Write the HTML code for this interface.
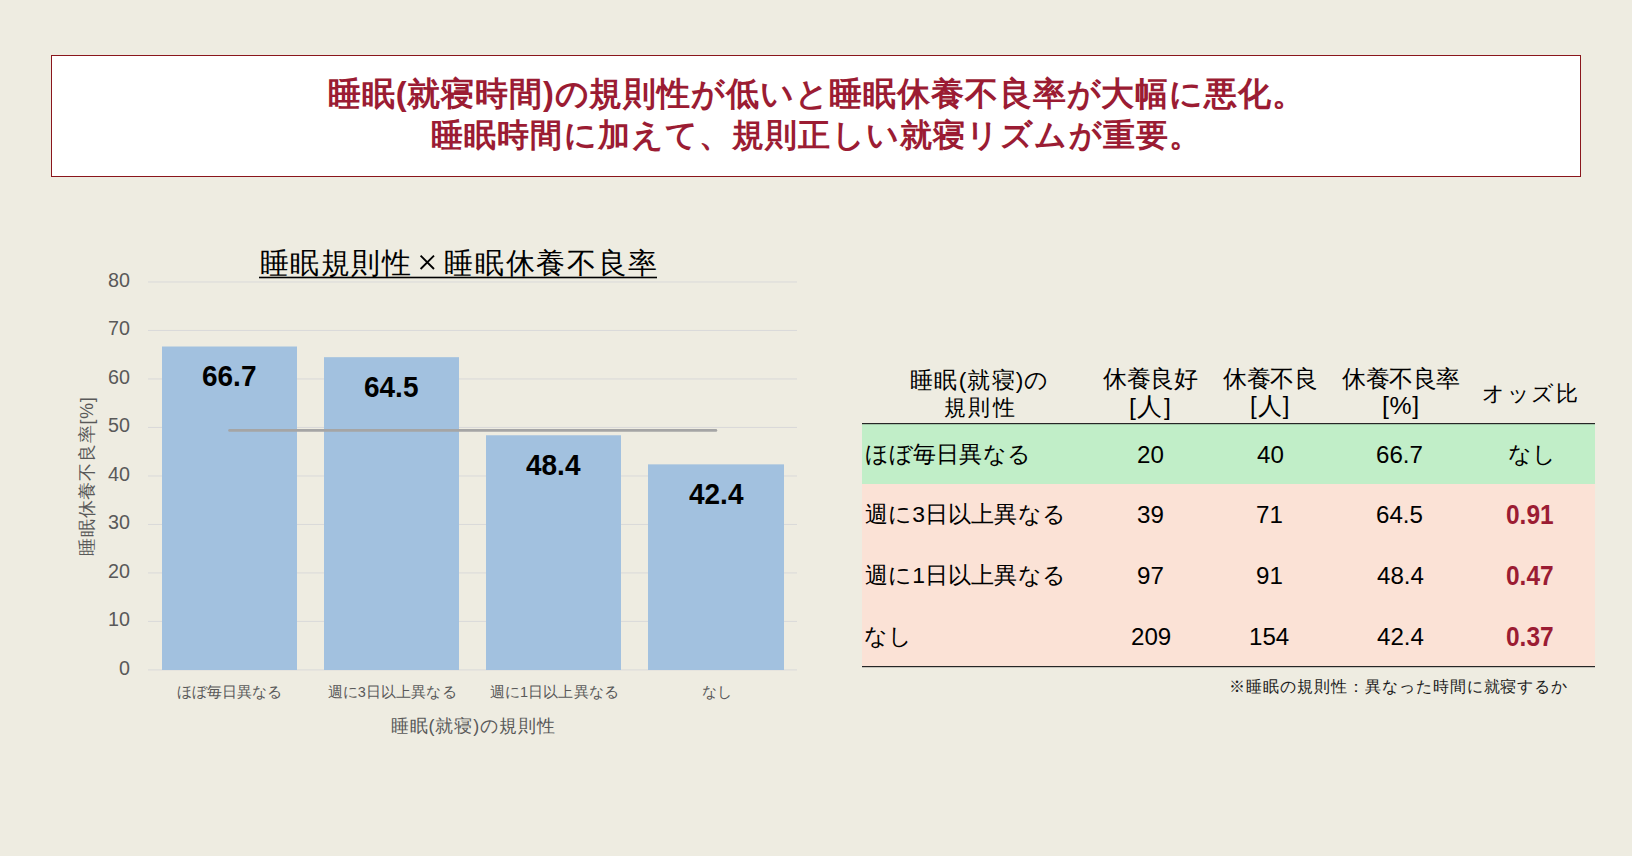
<!DOCTYPE html><html lang="ja"><head><meta charset="utf-8"><style>
*{margin:0;padding:0;box-sizing:border-box}
html,body{width:1632px;height:856px;overflow:hidden;background:#EEECE1}
body{position:relative;font-family:"Liberation Sans",sans-serif}
.t{position:absolute;white-space:nowrap}
.abs{position:absolute}
</style></head><body><div class="abs" style="left:51px;top:55px;width:1530px;height:122px;background:#fff;border:1.3px solid #8A161C"></div>
<svg class="abs" style="left:0;top:0" width="1632" height="856"><rect x="148" y="669.40" width="649" height="1" fill="#D9D9D9"/><rect x="148" y="620.91" width="649" height="1" fill="#D9D9D9"/><rect x="148" y="572.42" width="649" height="1" fill="#D9D9D9"/><rect x="148" y="523.93" width="649" height="1" fill="#D9D9D9"/><rect x="148" y="475.44" width="649" height="1" fill="#D9D9D9"/><rect x="148" y="426.95" width="649" height="1" fill="#D9D9D9"/><rect x="148" y="378.46" width="649" height="1" fill="#D9D9D9"/><rect x="148" y="329.97" width="649" height="1" fill="#D9D9D9"/><rect x="148" y="281.48" width="649" height="1" fill="#D9D9D9"/><rect x="162" y="346.50" width="135" height="323.50" fill="#A2C1DF"/><rect x="324" y="357.18" width="135" height="312.82" fill="#A2C1DF"/><rect x="486" y="435.26" width="135" height="234.74" fill="#A2C1DF"/><rect x="648" y="464.36" width="136" height="205.64" fill="#A2C1DF"/><line x1="229.6" y1="430.4" x2="715.9" y2="430.4" stroke="#A5A5A5" stroke-width="2.8" stroke-linecap="round"/><rect x="259" y="276.7" width="398" height="1.6" fill="#000"/><rect x="862" y="424" width="733" height="60" fill="#C1EEC8"/><rect x="862" y="484" width="733" height="182" fill="#FBE2D6"/><rect x="862" y="423" width="733" height="1.2" fill="#262626"/><rect x="862" y="666" width="733" height="1.2" fill="#262626"/><path d="M420.6 255.7L434 269M434 255.7L420.6 269" stroke="#000" stroke-width="1.9" fill="none"/></svg>
<div class="t" style="left:328.0px;top:78.0px;font-size:32.6px;line-height:32.6px;font-weight:bold;color:#9B1C33;letter-spacing:0.862px;">睡眠(就寝時間)の規則性が低いと睡眠休養不良率が大幅に悪化。</div>
<div class="t" style="left:431.0px;top:118.5px;font-size:32.25px;line-height:32.25px;font-weight:bold;color:#9B1C33;letter-spacing:1.136px;">睡眠時間に加えて、規則正しい就寝リズムが重要。</div>
<div class="t" style="left:259.7px;top:247.5px;font-size:29.3px;line-height:29.3px;font-weight:normal;color:#000;letter-spacing:1.575px;">睡眠規則性</div>
<div class="t" style="left:444.3px;top:247.5px;font-size:29.41px;line-height:29.41px;font-weight:normal;color:#000;letter-spacing:1.7px;">睡眠休養不良率</div>
<div class="t" style="left:119.0px;top:658.8px;font-size:19.72px;line-height:19.72px;font-weight:normal;color:#595959;letter-spacing:0.0px;">0</div>
<div class="t" style="left:108.0px;top:610.3px;font-size:19.72px;line-height:19.72px;font-weight:normal;color:#595959;letter-spacing:0.0px;">10</div>
<div class="t" style="left:108.0px;top:561.8px;font-size:19.72px;line-height:19.72px;font-weight:normal;color:#595959;letter-spacing:0.0px;">20</div>
<div class="t" style="left:108.0px;top:513.3px;font-size:19.72px;line-height:19.72px;font-weight:normal;color:#595959;letter-spacing:0.0px;">30</div>
<div class="t" style="left:108.0px;top:464.8px;font-size:19.72px;line-height:19.72px;font-weight:normal;color:#595959;letter-spacing:0.0px;">40</div>
<div class="t" style="left:108.0px;top:416.3px;font-size:19.72px;line-height:19.72px;font-weight:normal;color:#595959;letter-spacing:0.0px;">50</div>
<div class="t" style="left:108.0px;top:367.8px;font-size:19.72px;line-height:19.72px;font-weight:normal;color:#595959;letter-spacing:0.0px;">60</div>
<div class="t" style="left:108.0px;top:319.3px;font-size:19.72px;line-height:19.72px;font-weight:normal;color:#595959;letter-spacing:0.0px;">70</div>
<div class="t" style="left:108.0px;top:270.8px;font-size:19.72px;line-height:19.72px;font-weight:normal;color:#595959;letter-spacing:0.0px;">80</div>
<div class="t" style="left:176.6px;top:685.25px;font-size:14.51px;line-height:14.51px;font-weight:normal;color:#595959;letter-spacing:0.133px;">ほぼ毎日異なる</div>
<div class="t" style="left:327.5px;top:685.25px;font-size:14.51px;line-height:14.51px;font-weight:normal;color:#595959;letter-spacing:0.133px;">週に3日以上異なる</div>
<div class="t" style="left:489.7px;top:685.25px;font-size:14.51px;line-height:14.51px;font-weight:normal;color:#595959;letter-spacing:0.133px;">週に1日以上異なる</div>
<div class="t" style="left:701.5px;top:685.25px;font-size:14.51px;line-height:14.51px;font-weight:normal;color:#595959;letter-spacing:0.133px;">なし</div>
<div class="t" style="left:390.6px;top:718.15px;font-size:17.96px;line-height:17.96px;font-weight:normal;color:#595959;letter-spacing:0.933px;">睡眠(就寝)の規則性</div>
<div class="t" style="left:202.05px;top:361.2px;font-size:29.58px;line-height:29.58px;font-weight:bold;color:#000;letter-spacing:0.0px;transform-origin:0 0;transform:scaleX(0.9455)">66.7</div>
<div class="t" style="left:364.08px;top:371.88px;font-size:29.58px;line-height:29.58px;font-weight:bold;color:#000;letter-spacing:0.0px;transform-origin:0 0;transform:scaleX(0.9455)">64.5</div>
<div class="t" style="left:526.28px;top:449.96px;font-size:29.58px;line-height:29.58px;font-weight:bold;color:#000;letter-spacing:0.0px;transform-origin:0 0;transform:scaleX(0.9455)">48.4</div>
<div class="t" style="left:688.58px;top:479.06px;font-size:29.58px;line-height:29.58px;font-weight:bold;color:#000;letter-spacing:0.0px;transform-origin:0 0;transform:scaleX(0.9455)">42.4</div>
<div class="t" style="left:910.3px;top:368.95px;font-size:22.8px;line-height:22.8px;font-weight:normal;color:#000;letter-spacing:1.167px;">睡眠(就寝)の</div>
<div class="t" style="left:943.5px;top:397.2px;font-size:21.96px;line-height:21.96px;font-weight:normal;color:#000;letter-spacing:2.75px;">規則性</div>
<div class="t" style="left:1102.8px;top:366.9px;font-size:24.06px;line-height:24.06px;font-weight:normal;color:#000;letter-spacing:-0.2px;">休養良好</div>
<div class="t" style="left:1129.0px;top:394.9px;font-size:24.78px;line-height:24.78px;font-weight:normal;color:#000;letter-spacing:1.5px;">[人]</div>
<div class="t" style="left:1222.9px;top:366.9px;font-size:24.09px;line-height:24.09px;font-weight:normal;color:#000;letter-spacing:-0.2px;">休養不良</div>
<div class="t" style="left:1249.9px;top:394.4px;font-size:24.11px;line-height:24.11px;font-weight:normal;color:#000;letter-spacing:1.05px;">[人]</div>
<div class="t" style="left:1342.0px;top:366.9px;font-size:23.97px;line-height:23.97px;font-weight:normal;color:#000;letter-spacing:-0.5px;">休養不良率</div>
<div class="t" style="left:1382.0px;top:393.9px;font-size:24.8px;line-height:24.8px;font-weight:normal;color:#000;letter-spacing:0.6px;">[%]</div>
<div class="t" style="left:1482.0px;top:382.95px;font-size:21.98px;line-height:21.98px;font-weight:normal;color:#000;letter-spacing:1.533px;">オッズ比</div>
<div class="t" style="left:865.0px;top:442.8px;font-size:22.95px;line-height:22.95px;font-weight:normal;color:#000;letter-spacing:0.117px;">ほぼ毎日異なる</div>
<div class="t" style="left:1137.27px;top:443.55px;font-size:23.52px;line-height:23.52px;font-weight:normal;color:#000;letter-spacing:0.0px;transform-origin:0 0;transform:scaleX(1.0250)">20</div>
<div class="t" style="left:1256.99px;top:443.55px;font-size:23.52px;line-height:23.52px;font-weight:normal;color:#000;letter-spacing:0.0px;transform-origin:0 0;transform:scaleX(1.0250)">40</div>
<div class="t" style="left:1376.42px;top:443.55px;font-size:23.52px;line-height:23.52px;font-weight:normal;color:#000;letter-spacing:0.0px;transform-origin:0 0;transform:scaleX(1.0250)">66.7</div>
<div class="t" style="left:1507.5px;top:442.8px;font-size:22.95px;line-height:22.95px;font-weight:normal;color:#000;letter-spacing:0.117px;">なし</div>
<div class="t" style="left:865.0px;top:503.1px;font-size:22.95px;line-height:22.95px;font-weight:normal;color:#000;letter-spacing:0.117px;">週に3日以上異なる</div>
<div class="t" style="left:1137.17px;top:503.85px;font-size:23.52px;line-height:23.52px;font-weight:normal;color:#000;letter-spacing:0.0px;transform-origin:0 0;transform:scaleX(1.0250)">39</div>
<div class="t" style="left:1256.47px;top:503.85px;font-size:23.52px;line-height:23.52px;font-weight:normal;color:#000;letter-spacing:0.0px;transform-origin:0 0;transform:scaleX(1.0250)">71</div>
<div class="t" style="left:1376.42px;top:503.85px;font-size:23.52px;line-height:23.52px;font-weight:normal;color:#000;letter-spacing:0.0px;transform-origin:0 0;transform:scaleX(1.0250)">64.5</div>
<div class="t" style="left:1506.1px;top:500.85px;font-size:27.18px;line-height:27.18px;font-weight:bold;color:#9B1C33;letter-spacing:0.0px;transform-origin:0 0;transform:scaleX(0.9000)">0.91</div>
<div class="t" style="left:865.0px;top:564.1px;font-size:22.95px;line-height:22.95px;font-weight:normal;color:#000;letter-spacing:0.117px;">週に1日以上異なる</div>
<div class="t" style="left:1137.17px;top:564.85px;font-size:23.52px;line-height:23.52px;font-weight:normal;color:#000;letter-spacing:0.0px;transform-origin:0 0;transform:scaleX(1.0250)">97</div>
<div class="t" style="left:1256.47px;top:564.85px;font-size:23.52px;line-height:23.52px;font-weight:normal;color:#000;letter-spacing:0.0px;transform-origin:0 0;transform:scaleX(1.0250)">91</div>
<div class="t" style="left:1376.94px;top:564.85px;font-size:23.52px;line-height:23.52px;font-weight:normal;color:#000;letter-spacing:0.0px;transform-origin:0 0;transform:scaleX(1.0250)">48.4</div>
<div class="t" style="left:1506.15px;top:561.85px;font-size:27.18px;line-height:27.18px;font-weight:bold;color:#9B1C33;letter-spacing:0.0px;transform-origin:0 0;transform:scaleX(0.9000)">0.47</div>
<div class="t" style="left:864.0px;top:624.8px;font-size:22.95px;line-height:22.95px;font-weight:normal;color:#000;letter-spacing:0.117px;">なし</div>
<div class="t" style="left:1130.51px;top:625.55px;font-size:23.52px;line-height:23.52px;font-weight:normal;color:#000;letter-spacing:0.0px;transform-origin:0 0;transform:scaleX(1.0250)">209</div>
<div class="t" style="left:1248.79px;top:625.55px;font-size:23.52px;line-height:23.52px;font-weight:normal;color:#000;letter-spacing:0.0px;transform-origin:0 0;transform:scaleX(1.0250)">154</div>
<div class="t" style="left:1376.94px;top:625.55px;font-size:23.52px;line-height:23.52px;font-weight:normal;color:#000;letter-spacing:0.0px;transform-origin:0 0;transform:scaleX(1.0250)">42.4</div>
<div class="t" style="left:1506.15px;top:622.55px;font-size:27.18px;line-height:27.18px;font-weight:bold;color:#9B1C33;letter-spacing:0.0px;transform-origin:0 0;transform:scaleX(0.9000)">0.37</div>
<div class="t" style="left:1229.0px;top:678.05px;font-size:16.19px;line-height:16.19px;font-weight:normal;color:#1a1a1a;letter-spacing:0.968px;">※睡眠の規則性：異なった時間に就寝するか</div>
<div class="t" style="left:79.4px;top:556px;font-size:17.76px;line-height:17.76px;color:#595959;letter-spacing:0.778px;transform-origin:0 0;transform:rotate(-90deg)">睡眠休養不良率[%]</div></body></html>
